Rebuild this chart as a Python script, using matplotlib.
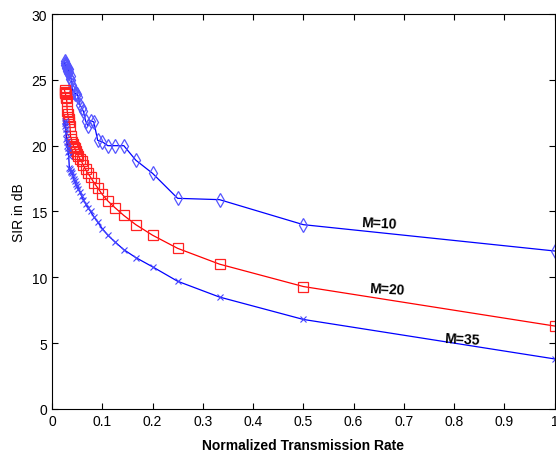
import matplotlib
matplotlib.use("Agg")
import matplotlib.pyplot as plt

plt.rcParams["font.family"] = ["Liberation Sans", "DejaVu Sans"]

# normalized transmission rate (1/N, N = 1..40)
rate = [1.0, 0.5, 0.3333, 0.25, 0.2, 0.1667, 0.1429, 0.125, 0.1111, 0.1,
        0.0909, 0.0833, 0.0769, 0.0714, 0.0667, 0.0625, 0.0588, 0.0556, 0.0526, 0.05,
        0.0476, 0.0455, 0.0435, 0.0417, 0.04, 0.0385, 0.037, 0.0357, 0.0345, 0.0333,
        0.0323, 0.0313, 0.0303, 0.0294, 0.0286, 0.0278, 0.027, 0.0263, 0.0256, 0.025]

sir_m10 = [12.0, 14.0, 15.9, 16.0, 17.9, 18.9, 20.0, 20.0, 20.0, 20.3,
           20.4, 21.8, 21.9, 21.5, 21.9, 22.6, 22.9, 23.1, 23.7, 23.9,
           24.0, 23.9, 24.2, 24.1, 24.6, 25.0, 25.3, 25.1, 25.6, 25.8,
           25.5, 25.9, 26.0, 25.7, 26.1, 26.2, 25.9, 26.3, 26.1, 26.4]

sir_m20 = [6.3, 9.3, 11.0, 12.2, 13.2, 14.0, 14.7, 15.3, 15.8, 16.3,
           16.8, 17.2, 17.6, 17.9, 18.2, 18.5, 18.8, 19.0, 19.2, 19.4,
           19.6, 19.8, 19.9, 20.1, 20.3, 20.5, 20.7, 21.5, 21.8, 22.0,
           22.2, 22.4, 22.6, 23.4, 23.6, 23.7, 23.9, 24.0, 24.1, 24.2]

sir_m35 = [3.8, 6.8, 8.5, 9.7, 10.8, 11.5, 12.1, 12.7, 13.2, 13.7,
           14.2, 14.6, 15.0, 15.3, 15.6, 15.9, 16.2, 16.5, 16.7, 16.9,
           17.1, 17.3, 17.5, 17.7, 17.9, 18.0, 18.1, 18.2, 18.3, 19.2,
           19.5, 19.8, 20.0, 20.3, 20.5, 21.0, 21.3, 21.5, 21.7, 21.9]

fig = plt.figure(figsize=(5.56, 4.56), dpi=100)
ax = fig.add_axes([0.0935, 0.101, 0.904, 0.866])

ax.plot(rate, sir_m10, color="#0000ff", lw=0.9, marker="d", ms=7.5,
        mfc="none", mec="#5555ff", mew=0.9)
ax.plot(rate, sir_m20, color="#ff0000", lw=0.9, marker="s", ms=7,
        mfc="none", mec="#ff2222", mew=0.9)
ax.plot(rate, sir_m35, color="#0000ff", lw=0.9, marker="x", ms=4.5,
        mec="#4444ff", mew=0.8)

ax.text(0.65, 14.1, "M=10", fontsize=10, fontweight="bold", ha="center", va="center", rotation=-3)
ax.text(0.666, 9.1, "M=20", fontsize=10, fontweight="bold", ha="center", va="center", rotation=-3)
ax.text(0.815, 5.3, "M=35", fontsize=10, fontweight="bold", ha="center", va="center", rotation=-3)

ax.set_xlim(0, 1)
ax.set_ylim(0, 30)
ax.set_xticks([0, 0.1, 0.2, 0.3, 0.4, 0.5, 0.6, 0.7, 0.8, 0.9, 1])
ax.set_xticklabels(["0", "0.1", "0.2", "0.3", "0.4", "0.5", "0.6", "0.7", "0.8", "0.9", "1"])
ax.set_yticks([0, 5, 10, 15, 20, 25, 30])
ax.tick_params(direction="in", top=True, right=True, labelsize=10, length=4, width=0.8)
for s in ax.spines.values():
    s.set_linewidth(0.8)

ax.set_xlabel("Normalized Transmission Rate", fontsize=10, fontweight="bold", labelpad=7)
ax.set_ylabel("SIR in dB", fontsize=10, labelpad=4)

fig.savefig("out.png", dpi=100)
